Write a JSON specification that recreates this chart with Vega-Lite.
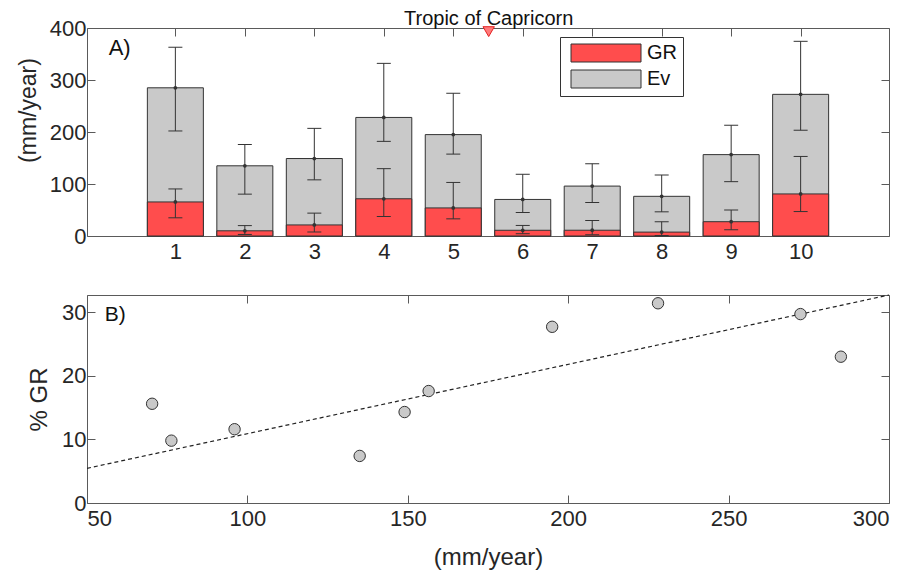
{
  "$schema": "https://vega.github.io/schema/vega-lite/v6.json",
  "padding": {"left": 16, "top": 8, "right": 5, "bottom": 5},
  "background": "white",
  "config": {
    "font": "Liberation Sans",
    "view": {"stroke": "#5a5a5a", "strokeWidth": 1},
    "concat": {"spacing": 29},
    "axis": {
      "domain": false,
      "grid": false,
      "tickColor": "#5a5a5a",
      "tickSize": -8,
      "tickWidth": 1,
      "labelColor": "#262626",
      "labelFontSize": 22,
      "labelPadding": 9,
      "titleColor": "#262626",
      "titleFontSize": 23,
      "titleFontWeight": "normal"
    },
    "axisX": {"labelPadding": 13},
    "legend": {
      "labelFont": "Liberation Sans"
    }
  },
  "datasets": {
    "sites": [
      {"site": 1, "GR": 65.5, "total": 285, "GR_lo": 35, "GR_hi": 90.5, "tot_lo": 202, "tot_hi": 363, "pct": 23.0},
      {"site": 2, "GR": 10, "total": 135, "GR_lo": 3, "GR_hi": 20, "tot_lo": 80.5, "tot_hi": 176, "pct": 7.4},
      {"site": 3, "GR": 21.3, "total": 149, "GR_lo": 7.7, "GR_hi": 44, "tot_lo": 108, "tot_hi": 207, "pct": 14.3},
      {"site": 4, "GR": 71.6, "total": 228, "GR_lo": 37.5, "GR_hi": 129.5, "tot_lo": 182, "tot_hi": 332, "pct": 31.4},
      {"site": 5, "GR": 54, "total": 195, "GR_lo": 33, "GR_hi": 103, "tot_lo": 157.5, "tot_hi": 274.5, "pct": 27.7},
      {"site": 6, "GR": 11, "total": 70.3, "GR_lo": 4.4, "GR_hi": 20.3, "tot_lo": 45.2, "tot_hi": 118.7, "pct": 15.6},
      {"site": 7, "GR": 11.1, "total": 96, "GR_lo": 2.5, "GR_hi": 30, "tot_lo": 64.3, "tot_hi": 139, "pct": 11.6},
      {"site": 8, "GR": 7.5, "total": 76.3, "GR_lo": 1, "GR_hi": 27.4, "tot_lo": 46.5, "tot_hi": 117.3, "pct": 9.8},
      {"site": 9, "GR": 27.5, "total": 156.5, "GR_lo": 12, "GR_hi": 50, "tot_lo": 104.5, "tot_hi": 213, "pct": 17.6},
      {"site": 10, "GR": 80.9, "total": 272.4, "GR_lo": 47, "GR_hi": 153, "tot_lo": 203.4, "tot_hi": 374.4, "pct": 29.7}
    ],
    "fit": [
      {"total": 50, "pct": 5.45},
      {"total": 300, "pct": 32.7}
    ],
    "tropic": [
      {"x": 5.51, "y": 406, "ty": 393, "label": "Tropic of Capricorn"}
    ],
    "panelA": [{"x": 0.04, "y": 349, "label": "A)"}],
    "panelB": [{"x": 55.5, "y": 28.6, "label": "B)"}]
  },
  "vconcat": [
    {
      "width": 802,
      "height": 208,
      "resolve": {"axis": {"x": "independent", "y": "independent"}},
      "layer": [
        {
          "data": {"name": "sites"},
          "mark": {"type": "bar", "width": 56, "stroke": "#333333", "strokeWidth": 1},
          "encoding": {
            "x": {"field": "site", "type": "quantitative", "scale": {"domain": [-0.2, 11.2], "nice": false, "zero": false},
                  "axis": {"values": [1,2,3,4,5,6,7,8,9,10], "title": null, "orient": "bottom"}},
            "y": {"field": "total", "type": "quantitative", "scale": {"domain": [0, 400], "nice": false},
                  "axis": {"values": [0,100,200,300,400], "title": "(mm/year)", "titleY": 82, "titlePadding": 9}},
            "color": {"datum": "Ev", "type": "nominal",
                      "scale": {"domain": ["GR", "Ev"], "range": ["#ff4d4d", "#c9c9c9"]},
                      "legend": {"title": null, "orient": "none", "legendX": 473, "legendY": 9,
                                 "strokeColor": "#333333", "fillColor": "white", "padding": 6,
                                 "symbolType": "M-1,-1.8H13V1.8H-1Z", "symbolSize": 100,
                                 "symbolStrokeColor": "#333333", "symbolStrokeWidth": 1, "symbolOpacity": 1,
                                 "labelFontSize": 20, "labelColor": "#111111", "labelOffset": 61, "rowPadding": 4}}
          }
        },
        {
          "data": {"name": "sites"},
          "mark": {"type": "bar", "width": 56, "stroke": "#333333", "strokeWidth": 1},
          "encoding": {
            "x": {"field": "site", "type": "quantitative",
                  "axis": {"values": [1,2,3,4,5,6,7,8,9,10], "title": null, "orient": "top", "labels": false}},
            "y": {"field": "GR", "type": "quantitative",
                  "axis": {"values": [0,100,200,300,400], "title": null, "orient": "right", "labels": false}},
            "color": {"datum": "GR", "type": "nominal"}
          }
        },
        {
          "data": {"name": "sites"},
          "mark": {"type": "rule", "color": "#333333", "strokeWidth": 1},
          "encoding": {
            "x": {"field": "site", "type": "quantitative", "axis": null},
            "y": {"field": "tot_lo", "type": "quantitative", "axis": null},
            "y2": {"field": "tot_hi"}
          }
        },
        {
          "data": {"name": "sites"},
          "mark": {"type": "rule", "color": "#333333", "strokeWidth": 1},
          "encoding": {
            "x": {"field": "site", "type": "quantitative", "axis": null},
            "y": {"field": "GR_lo", "type": "quantitative", "axis": null},
            "y2": {"field": "GR_hi"}
          }
        },
        {
          "data": {"name": "sites"},
          "transform": [{"fold": ["GR_lo", "GR_hi", "tot_lo", "tot_hi"], "as": ["bound", "val"]}],
          "mark": {"type": "tick", "orient": "horizontal", "size": 14, "thickness": 1, "color": "#333333", "opacity": 1},
          "encoding": {
            "x": {"field": "site", "type": "quantitative", "axis": null},
            "y": {"field": "val", "type": "quantitative", "axis": null}
          }
        },
        {
          "data": {"name": "sites"},
          "transform": [{"fold": ["GR", "total"], "as": ["comp", "val"]}],
          "mark": {"type": "point", "filled": true, "size": 14, "color": "#333333", "opacity": 1},
          "encoding": {
            "x": {"field": "site", "type": "quantitative", "axis": null},
            "y": {"field": "val", "type": "quantitative", "axis": null}
          }
        },
        {
          "data": {"name": "tropic"},
          "mark": {"type": "text", "fontSize": 20, "color": "#111111", "align": "center", "baseline": "alphabetic"},
          "encoding": {
            "x": {"field": "x", "type": "quantitative", "axis": null},
            "y": {"field": "y", "type": "quantitative", "axis": null},
            "text": {"field": "label"}
          }
        },
        {
          "data": {"name": "tropic"},
          "mark": {"type": "point", "shape": "triangle-down", "size": 130, "filled": true, "fill": "#ff7a7a", "stroke": "#e52222", "strokeWidth": 1, "opacity": 1},
          "encoding": {
            "x": {"field": "x", "type": "quantitative", "axis": null},
            "y": {"field": "ty", "type": "quantitative", "axis": null}
          }
        },
        {
          "data": {"name": "panelA"},
          "mark": {"type": "text", "fontSize": 22, "color": "#111111", "align": "left", "baseline": "alphabetic"},
          "encoding": {
            "x": {"field": "x", "type": "quantitative", "axis": null},
            "y": {"field": "y", "type": "quantitative", "axis": null},
            "text": {"field": "label"}
          }
        }
      ]
    },
    {
      "width": 802,
      "height": 208,
      "resolve": {"axis": {"x": "independent", "y": "independent"}},
      "layer": [
        {
          "data": {"name": "fit"},
          "mark": {"type": "line", "color": "#222222", "strokeWidth": 1.2, "strokeDash": [4, 3]},
          "encoding": {
            "x": {"field": "total", "type": "quantitative", "scale": {"domain": [50, 300], "nice": false, "zero": false},
                  "axis": {"values": [50,100,150,200,250,300], "title": "(mm/year)", "titleFontSize": 24, "titlePadding": 16}},
            "y": {"field": "pct", "type": "quantitative", "scale": {"domain": [0, 32.7], "nice": false},
                  "axis": {"values": [0,10,20,30], "title": "% GR", "titleFontSize": 24, "titlePadding": 10}}
          }
        },
        {
          "data": {"name": "sites"},
          "mark": {"type": "point", "filled": true, "size": 130, "fill": "#c9c9c9", "stroke": "#333333", "strokeWidth": 1, "opacity": 1},
          "encoding": {
            "x": {"field": "total", "type": "quantitative",
                  "axis": {"values": [50,100,150,200,250,300], "title": null, "orient": "top", "labels": false}},
            "y": {"field": "pct", "type": "quantitative",
                  "axis": {"values": [0,10,20,30], "title": null, "orient": "right", "labels": false}}
          }
        },
        {
          "data": {"name": "panelB"},
          "mark": {"type": "text", "fontSize": 21, "color": "#111111", "align": "left", "baseline": "alphabetic"},
          "encoding": {
            "x": {"field": "x", "type": "quantitative", "axis": null},
            "y": {"field": "y", "type": "quantitative", "axis": null},
            "text": {"field": "label"}
          }
        }
      ]
    }
  ]
}
